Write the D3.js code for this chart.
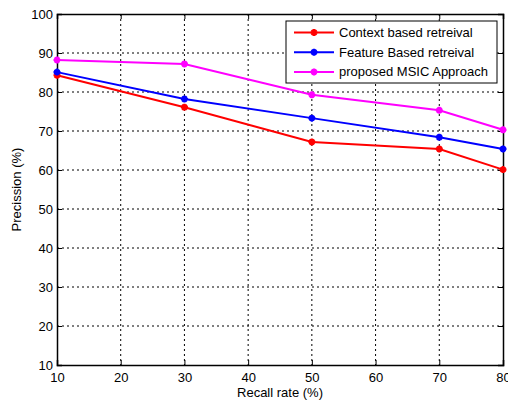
<!DOCTYPE html>
<html>
<head>
<meta charset="utf-8">
<script src="https://cdn.jsdelivr.net/npm/d3@7"></script>
<style>
  body { margin: 0; background: #fff; }
  text { font-family: "Liberation Sans", Arial, sans-serif; }
</style>
</head>
<body>
<div id="chart"></div>
<script>
var recall = [10, 30, 50, 70, 80]
var contextBased = [84.3, 76.1, 67.2, 65.4, 60.1]
var featureBased = [85.1, 78.2, 73.3, 68.4, 65.4]
var proposedMSIC = [88.2, 87.2, 79.3, 75.3, 70.3]
var seriesNames = ["Context based retreival", "Feature Based retreival", "proposed MSIC Approach"]
var seriesColors = ["#ff0000", "#0000ff", "#ff00ff"]
var xTicks = [10, 20, 30, 40, 50, 60, 70, 80]
var yTicks = [10, 20, 30, 40, 50, 60, 70, 80, 90, 100]

var width = 508, height = 405
var margins = {top: 14, right: 5, bottom: 40, left: 57}
var inner_width = width - margins.left - margins.right
var inner_height = height - margins.top - margins.bottom

var svg = d3.select("#chart").append("svg")
            .attr("width", width)
            .attr("height", height)

var g = svg.append("g")
           .attr("transform", "translate(" + margins.left + "," + margins.top + ")")

var scalex = d3.scaleLinear().domain([10, 80]).range([0, inner_width])
var scaley = d3.scaleLinear().domain([10, 100]).range([inner_height, 0])

// dotted grid
g.selectAll(".gx").data(xTicks.slice(1, -1)).enter().append("line")
  .attr("x1", d => scalex(d)).attr("x2", d => scalex(d))
  .attr("y1", 0).attr("y2", inner_height)
  .attr("stroke", "#000").attr("stroke-width", 1).attr("stroke-dasharray", "2,3")
g.selectAll(".gy").data(yTicks.slice(1, -1)).enter().append("line")
  .attr("y1", d => scaley(d)).attr("y2", d => scaley(d))
  .attr("x1", 0).attr("x2", inner_width)
  .attr("stroke", "#000").attr("stroke-width", 1).attr("stroke-dasharray", "2,3")

// axes, ticks inside
g.append("g")
  .attr("transform", "translate(0," + inner_height + ")")
  .call(d3.axisBottom(scalex).tickValues(xTicks).tickSize(-5).tickPadding(8))
g.append("g")
  .call(d3.axisLeft(scaley).tickValues(yTicks).tickSize(-5).tickPadding(4))
g.append("g")
  .call(d3.axisTop(scalex).tickValues(xTicks).tickSize(-5).tickFormat(""))
g.append("g")
  .attr("transform", "translate(" + inner_width + ",0)")
  .call(d3.axisRight(scaley).tickValues(yTicks).tickSize(-5).tickFormat(""))
g.selectAll(".domain").attr("stroke", "#000").attr("stroke-width", 1.5)
g.selectAll(".tick line").attr("stroke", "#000")
g.selectAll(".tick text").attr("font-size", 13).attr("fill", "#000")
  .style("font-family", "'Liberation Sans', Arial, sans-serif")

var allSeries = [contextBased, featureBased, proposedMSIC]

var linegenerator = d3.line()
  .x((d, i) => scalex(recall[i]))
  .y(d => scaley(d))

function star(sel, color) {
  var s = 3.5
  sel.append("path")
    .attr("d", "M" + (-s) + ",0H" + s + "M0," + (-s) + "V" + s +
               "M" + (-s*0.7) + "," + (-s*0.7) + "L" + (s*0.7) + "," + (s*0.7) +
               "M" + (-s*0.7) + "," + (s*0.7) + "L" + (s*0.7) + "," + (-s*0.7))
    .attr("stroke", color).attr("stroke-width", 2.2).attr("fill", "none")
}

allSeries.forEach(function (vals, k) {
  g.append("path")
    .attr("d", linegenerator(vals))
    .attr("stroke", seriesColors[k])
    .attr("stroke-width", 2)
    .attr("fill", "none")
  g.selectAll(".m" + k).data(vals).enter().append("g")
    .attr("transform", (d, i) => "translate(" + scalex(recall[i]) + "," + scaley(d) + ")")
    .each(function () { star(d3.select(this), seriesColors[k]) })
})

// legend
var legend = svg.append("g").attr("transform", "translate(286,21)")
legend.append("rect")
  .attr("width", 211).attr("height", 62)
  .attr("fill", "#fff").attr("stroke", "#000").attr("stroke-width", 1)
seriesNames.forEach(function (name, k) {
  var y = 11.5 + k * 19.7
  legend.append("line")
    .attr("x1", 8).attr("x2", 48).attr("y1", y).attr("y2", y)
    .attr("stroke", seriesColors[k]).attr("stroke-width", 2)
  var m = legend.append("g").attr("transform", "translate(28," + y + ")")
  star(m, seriesColors[k])
  legend.append("text")
    .attr("x", 53).attr("y", y + 4.5)
    .attr("font-size", 13).attr("fill", "#000")
    .text(name)
})

// axis titles
svg.append("text")
  .attr("x", margins.left + inner_width / 2).attr("y", 397)
  .attr("text-anchor", "middle").attr("font-size", 13)
  .text("Recall rate (%)")
svg.append("text")
  .attr("transform", "translate(21," + (margins.top + inner_height / 2) + ") rotate(-90)")
  .attr("text-anchor", "middle").attr("font-size", 13)
  .text("Precission (%)")
</script>
</body>
</html>
